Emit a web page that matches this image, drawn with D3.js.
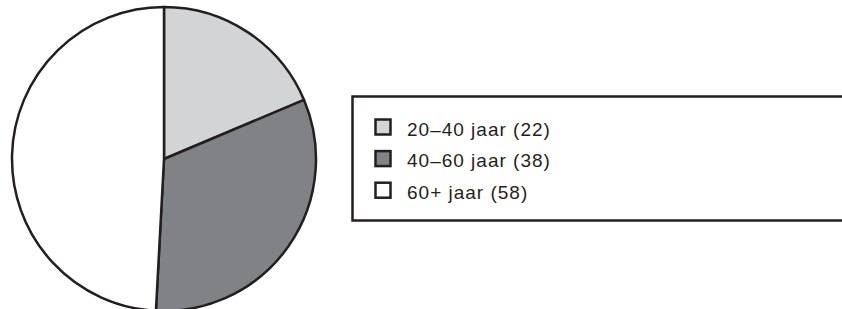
<!DOCTYPE html>
<html lang="nl">
<head>
    <meta charset="UTF-8">
    <title>Leeftijdsverdeling</title>
    <script src="https://d3js.org/d3.v7.min.js"></script>
    <style>
        body { margin: 0; background: #fff; }
    </style>
</head>
<body>
    <div id="chart"></div>

    <script>
        // data
        const categories = ["20\u201340 jaar", "40\u201360 jaar", "60+ jaar"];
        const values = [22, 38, 58];
        const colors = ["#d3d4d6", "#808285", "#ffffff"];

        const width = 842, height = 309;
        const ink = "#231f20";

        const svg = d3.select("#chart")
            .append("svg")
            .attr("width", width)
            .attr("height", height);

        // pie, starting at 12 o'clock, clockwise, in data order
        const pie = d3.pie().sort(null).value(d => d);
        const arc = d3.arc().innerRadius(0).outerRadius(152);

        const g = svg.append("g")
            .attr("transform", "translate(164,159)");

        g.selectAll("path")
            .data(pie(values))
            .join("path")
            .attr("d", arc)
            .attr("fill", (d, i) => colors[i])
            .attr("stroke", ink)
            .attr("stroke-width", 2.5)
            .attr("stroke-linejoin", "round");

        // legend box (runs off the right edge)
        const legend = svg.append("g");
        legend.append("rect")
            .attr("x", 352.5)
            .attr("y", 96.5)
            .attr("width", 520)
            .attr("height", 124)
            .attr("fill", "none")
            .attr("stroke", ink)
            .attr("stroke-width", 2.5);

        const row = d3.scaleLinear().domain([0, 1]).range([127, 158.6]);

        const items = legend.selectAll("g.item")
            .data(categories)
            .join("g")
            .attr("class", "item")
            .attr("transform", (d, i) => `translate(0,${row(i)})`);

        items.append("rect")
            .attr("x", 375.5)
            .attr("y", -7.5)
            .attr("width", 15)
            .attr("height", 15)
            .attr("fill", (d, i) => colors[i])
            .attr("stroke", ink)
            .attr("stroke-width", 2.5);

        items.append("text")
            .attr("x", 407)
            .attr("y", 8.6)
            .attr("font-family", "'Liberation Sans', Arial, sans-serif")
            .attr("font-size", 19)
            .attr("letter-spacing", 1)
            .attr("fill", ink)
            .text((d, i) => `${d} (${values[i]})`);
    </script>
</body>
</html>
